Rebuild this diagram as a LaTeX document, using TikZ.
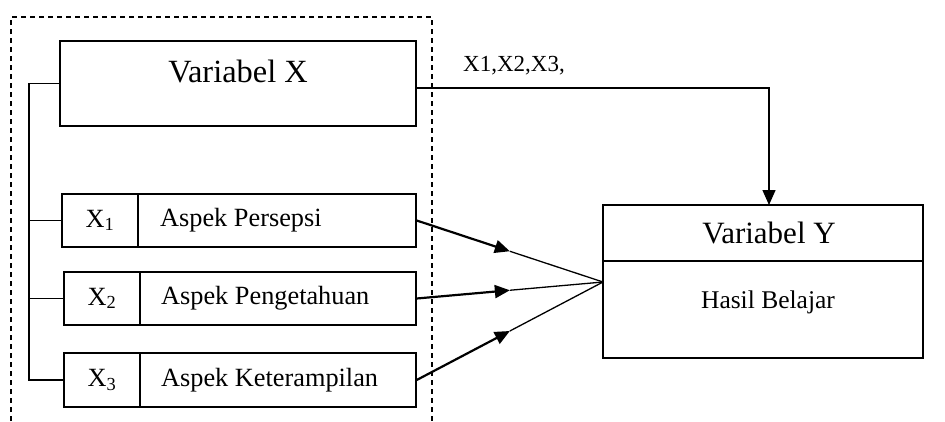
\documentclass[tikz,border=0pt]{standalone}
\usepackage{fontspec}
\setmainfont{Liberation Serif}
\usetikzlibrary{arrows.meta,calc}

\tikzset{
  box/.style={draw, line width=1.4bp, rectangle, inner sep=0pt, minimum height=#1},
  lbl/.style={inner sep=0pt, font=\fontsize{26.3bp}{30bp}\selectfont},
  link/.style={line width=1.4bp},
  feed/.style={line width=2.2bp, -{Triangle[length=15bp,width=13bp]}},
  tip/.style={-{Triangle[length=15bp,width=13bp]}},
}

\begin{document}
\begin{tikzpicture}[x=1bp,y=-1bp]
\useasboundingbox (0,0) rectangle (945,421);

% dashed frame around the independent variables (open at the bottom)
\draw[line width=1.3bp, dash pattern=on 5bp off 4bp]
  (11,421) -- (11,17) -- (432,17) -- (432,421);

% Variabel X
\node[box=85bp, minimum width=356bp] (vx) at (238,83.5) {};
\node[lbl, font=\fontsize{32.4bp}{36bp}\selectfont] (vxt) at (238,71) {Variabel X};

% aspect rows
\node[box=53bp, minimum width=76bp]  (r1a) at (100,220.5) {};
\node[box=53bp, minimum width=278bp] (r1b) at (277,220.5) {};
\node[box=53bp, minimum width=76bp]  (r2a) at (102,298.5) {};
\node[box=53bp, minimum width=276bp] (r2b) at (278,298.5) {};
\node[box=54bp, minimum width=76bp]  (r3a) at (102,380) {};
\node[box=54bp, minimum width=276bp] (r3b) at (278,380) {};

\node[lbl] (x1) at (r1a) {X\textsubscript{1}};
\node[lbl] (x2) at (r2a) {X\textsubscript{2}};
\node[lbl] (x3) at (r3a) {X\textsubscript{3}};
\node[lbl, anchor=west] (a1) at (160,220) {Aspek Persepsi};
\node[lbl, anchor=west] (a2) at (161,298) {Aspek Pengetahuan};
\node[lbl, anchor=west] (a3) at (161,380) {Aspek Keterampilan};

% Variabel Y
\node[box=56bp, minimum width=320bp] (vyt) at (763,233) {};
\node[box=97bp, minimum width=320bp] (vyb) at (763,309.5) {};
\node[lbl, font=\fontsize{31bp}{35bp}\selectfont] (vyl) at (769,233) {Variabel Y};
\node[lbl, font=\fontsize{25.5bp}{30bp}\selectfont] (hb) at (768,302) {Hasil Belajar};

% bracket joining the sub-aspects to Variabel X
\coordinate (spine) at (29,0);
\draw[link] (vx.west) -- (vx.west -| spine) -- (r3a.west -| spine) -- (r3a.west);
\draw[link] (r1a.west) -- (r1a.west -| spine);
\draw[link] (r2a.west) -- (r2a.west -| spine);

% combined path X -> Y
\coordinate (tgt) at (769,205);
\draw[link, tip] ([yshift=-4.5bp]vx.east) -| (tgt);
\node[inner sep=0pt, anchor=west, font=\fontsize{23bp}{27bp}\selectfont] (xs) at (463,66) {X1,X2,X3,};

% each aspect converging on Y
\coordinate (m) at (603,282);
\foreach \r in {r1b,r2b,r3b} {
  \draw[feed] (\r.east) -- ($(\r.east)!0.5!(m)$);
  \draw[line width=1.3bp] ($(\r.east)!0.5!(m)$) -- (m);
}
\end{tikzpicture}
\end{document}
